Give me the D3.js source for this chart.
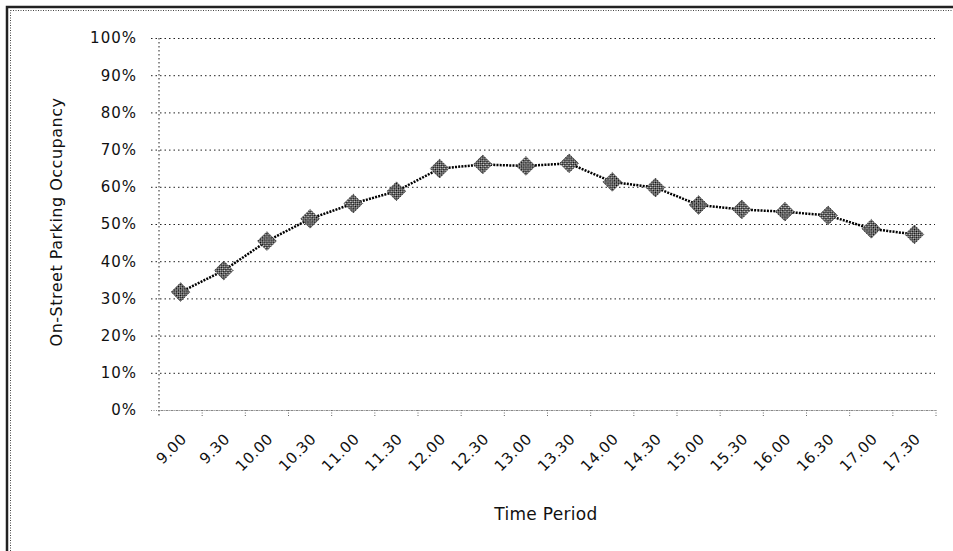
<!DOCTYPE html>
<html>
<head>
<meta charset="utf-8">
<script src="https://cdn.jsdelivr.net/npm/d3@7"></script>
<style>
  html, body { margin: 0; padding: 0; background: #fff; }
  svg { display: block; }
  text { font-family: "DejaVu Sans", sans-serif; fill: #111; }
</style>
</head>
<body>
<script>
// Half-hourly time periods on the x axis
const categories = ["9.00", "9.30", "10.00", "10.30", "11.00", "11.30", "12.00", "12.30", "13.00",
  "13.30", "14.00", "14.30", "15.00", "15.30", "16.00", "16.30", "17.00", "17.30"];
// On-street parking occupancy, percent
const occupancy = [31.7, 37.5, 45.4, 51.4, 55.5, 58.8, 64.9, 66.0, 65.6,
  66.3, 61.3, 59.8, 55.1, 53.9, 53.3, 52.3, 48.7, 47.2];
// Y axis tick values, percent
const yTicks = [0, 10, 20, 30, 40, 50, 60, 70, 80, 90, 100];

const W = 953, H = 551;
const plot = { left: 159, right: 936, top: 38, bottom: 410 };

const svg = d3.select("body").append("svg").attr("width", W).attr("height", H);

// checkerboard fill for the diamond markers
const defs = svg.append("defs");
const pat = defs.append("pattern").attr("id", "checker")
  .attr("width", 3).attr("height", 3).attr("patternUnits", "userSpaceOnUse");
pat.append("rect").attr("width", 3).attr("height", 3).attr("fill", "#d8d8d8");
pat.append("rect").attr("x", 0).attr("y", 0).attr("width", 1.6).attr("height", 1.6).attr("fill", "#000");
pat.append("rect").attr("x", 1.5).attr("y", 1.5).attr("width", 1.5).attr("height", 1.5).attr("fill", "#000");

// outer frame (top and left edges)
svg.append("rect").attr("x", 7).attr("y", 7).attr("width", W + 20).attr("height", H + 20)
  .attr("fill", "none").attr("stroke", "#222").attr("stroke-width", 2.5);
svg.append("rect").attr("x", 10.5).attr("y", 10.5).attr("width", W + 20).attr("height", H + 20)
  .attr("fill", "none").attr("stroke", "#444").attr("stroke-width", 1).attr("stroke-dasharray", "1,1.5");

const x = d3.scaleBand().domain(categories).range([plot.left, plot.right]).padding(0);
const y = d3.scaleLinear().domain([0, 100]).range([plot.bottom, plot.top]);

// horizontal gridlines with tick labels
const yAxis = d3.axisLeft(y).tickValues(yTicks)
  .tickSize(-(plot.right - plot.left + 7))
  .tickPadding(14)
  .tickFormat(d => d + "%");
const gy = svg.append("g").attr("transform", `translate(${plot.left - 8},0)`).call(yAxis);
gy.select(".domain").remove();
gy.selectAll(".tick line")
  .attr("stroke", "#222").attr("stroke-width", 1).attr("stroke-dasharray", "1.5,3")
  .filter(d => d === 0).attr("stroke", "#888").attr("stroke-dasharray", "1,1.5");
gy.selectAll(".tick text")
  .attr("font-size", 15).attr("letter-spacing", 1).attr("fill", "#222");

// vertical axis line
svg.append("line")
  .attr("x1", plot.left).attr("x2", plot.left)
  .attr("y1", y(100)).attr("y2", plot.bottom + 6)
  .attr("stroke", "#222").attr("stroke-width", 1).attr("stroke-dasharray", "1.5,2.5");

// x axis with tick marks at category boundaries
const gx = svg.append("g").attr("transform", `translate(0,${plot.bottom})`)
  .call(d3.axisBottom(x).tickSize(0).tickFormat(""));
gx.select(".domain").attr("stroke", "#888").attr("stroke-dasharray", "1,1.5");
gx.selectAll(".tick").remove();
gx.selectAll(".bound").data(categories).join("line")
  .attr("class", "bound")
  .attr("x1", d => x(d) + x.bandwidth())
  .attr("x2", d => x(d) + x.bandwidth())
  .attr("y1", 0).attr("y2", 6)
  .attr("stroke", "#666").attr("stroke-dasharray", "1,1.5");

// rotated category labels
svg.append("g").selectAll("text").data(categories).join("text")
  .attr("transform", d => `translate(${x(d) + x.bandwidth() / 2 + 7},${plot.bottom + 30}) rotate(-45)`)
  .attr("text-anchor", "end")
  .attr("font-size", 15).attr("letter-spacing", 0.5).attr("fill", "#222")
  .text(d => d);

// occupancy line
const cx = (d, i) => x(categories[i]) + x.bandwidth() / 2;
const line = d3.line().x(cx).y(d => y(d));
svg.append("path").datum(occupancy)
  .attr("d", line)
  .attr("fill", "none").attr("stroke", "#000").attr("stroke-width", 2.5)
  .attr("stroke-dasharray", "2,1.2");

// diamond markers
svg.append("g").selectAll("path").data(occupancy).join("path")
  .attr("d", d3.symbol(d3.symbolSquare, 176))
  .attr("transform", (d, i) => `translate(${cx(d, i)},${y(d)}) rotate(45)`)
  .attr("fill", "url(#checker)").attr("stroke", "#333").attr("stroke-width", 0.8)
  .attr("stroke-dasharray", "1.5,1");

// axis titles
svg.append("text")
  .attr("transform", `translate(62,${(plot.top + plot.bottom) / 2 - 2}) rotate(-90)`)
  .attr("text-anchor", "middle").attr("font-size", 16).attr("letter-spacing", 0.5)
  .text("On-Street Parking Occupancy");
svg.append("text")
  .attr("x", 546).attr("y", 520)
  .attr("text-anchor", "middle").attr("font-size", 17).attr("letter-spacing", 0.3)
  .text("Time Period");
</script>
</body>
</html>
